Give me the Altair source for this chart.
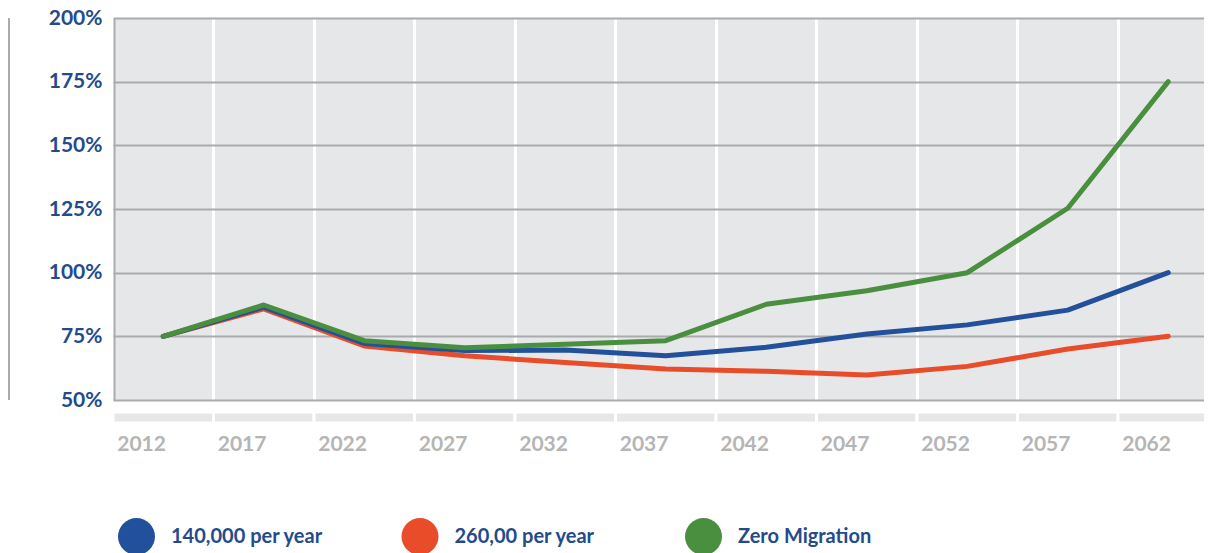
import altair as alt
import pandas as pd

years = ["2012", "2017", "2022", "2027", "2032", "2037", "2042", "2047", "2052", "2057", "2062"]
series_names = ["140,000 per year", "260,00 per year", "Zero Migration"]
s140 = [75.0, 86.5, 72.2, 69.4, 69.6, 67.4, 70.7, 75.9, 79.5, 85.3, 100.0]
s260 = [75.0, 85.8, 71.2, 67.4, 64.7, 62.2, 61.3, 59.8, 63.2, 70.0, 75.0]
s_zero = [75.0, 87.3, 73.3, 70.5, 71.9, 73.3, 87.6, 92.9, 100.0, 125.3, 175.0]
y_ticks = [50, 75, 100, 125, 150, 175, 200]
colors = ["#22509b", "#e84c28", "#4a8f3f"]

rows = []
for name, vals in zip(series_names, [s140, s260, s_zero]):
    for yr, v in zip(years, vals):
        rows.append({"year": yr, "value": v, "series": name})
df = pd.DataFrame(rows)

W, H = 1090, 382
FONT = "Lato"
LABEL_BLUE = "#234b8c"
GRID_GREY = "#a9abae"

x_enc = alt.X(
    "year:N",
    sort=years,
    scale=alt.Scale(range=[-1, 1104.5], paddingInner=0, paddingOuter=0),
    axis=alt.Axis(
        title=None, ticks=False, domain=False, grid=True, gridColor="white",
        gridWidth=3, bandPosition=0, labelAlign="left", labelBaseline="top",
        labelOffset=-46, labelPadding=33, labelFont=FONT, labelFontSize=21,
        labelFontWeight="bold", labelColor="#b5b5b5", labelAngle=0,
    ),
)
y_enc = alt.Y(
    "value:Q",
    scale=alt.Scale(domain=[50, 200], nice=False, zero=False),
    axis=alt.Axis(
        title=None, values=y_ticks, labelExpr="datum.value + '%'", ticks=False,
        domain=True, domainColor=GRID_GREY, domainWidth=2, grid=True,
        gridColor=GRID_GREY, gridWidth=2, labelFont=FONT, labelFontSize=21,
        labelFontWeight="bold", labelColor=LABEL_BLUE, labelPadding=12,
    ),
)

base = alt.Chart(df)

legend_layer = base.mark_circle(opacity=0, size=1).encode(
    x=x_enc,
    y=y_enc,
    color=alt.Color(
        "series:N",
        sort=series_names,
        scale=alt.Scale(domain=series_names, range=colors),
        legend=alt.Legend(
            title=None, orient="none", legendX=4, legendY=500,
            direction="horizontal", symbolType="circle", symbolSize=1369,
            symbolOpacity=1, symbolStrokeWidth=0, labelFont=FONT,
            labelFontSize=20, labelFontWeight="bold", labelColor=LABEL_BLUE,
            labelOffset=16, columnPadding=77.5, gridAlign="all", labelLimit=400,
        ),
    ),
)

strip = alt.Chart(pd.DataFrame({"year": years})).mark_rect(
    fill="#e6e7e9", stroke="white", strokeWidth=3
).encode(
    x=alt.X("year:N", sort=years),
    y=alt.value(H + 12),
    y2=alt.value(H + 23),
)

def line_for(name, color):
    return base.transform_filter(alt.datum.series == name).mark_line(
        color=color, strokeWidth=5, strokeCap="round", strokeJoin="round"
    ).encode(x=x_enc, y=y_enc)

line_red = line_for(series_names[1], colors[1])
line_blue = line_for(series_names[0], colors[0])
line_green = line_for(series_names[2], colors[2])

deco = alt.Chart(pd.DataFrame({"a": [0]})).mark_rule(
    color=GRID_GREY, strokeWidth=2
).encode(x=alt.value(-105), y=alt.value(0), y2=alt.value(H))

chart = alt.layer(
    legend_layer, strip, line_red, line_blue, line_green, deco
).properties(
    width=W, height=H,
    autosize=alt.AutoSizeParams(type="none"),
    padding={"left": 106, "top": 10, "right": 0, "bottom": 153},
).configure_view(
    fill="#e6e7e9", strokeWidth=0
)

chart.save("out.html", embed_options={"renderer": "svg", "actions": False})
